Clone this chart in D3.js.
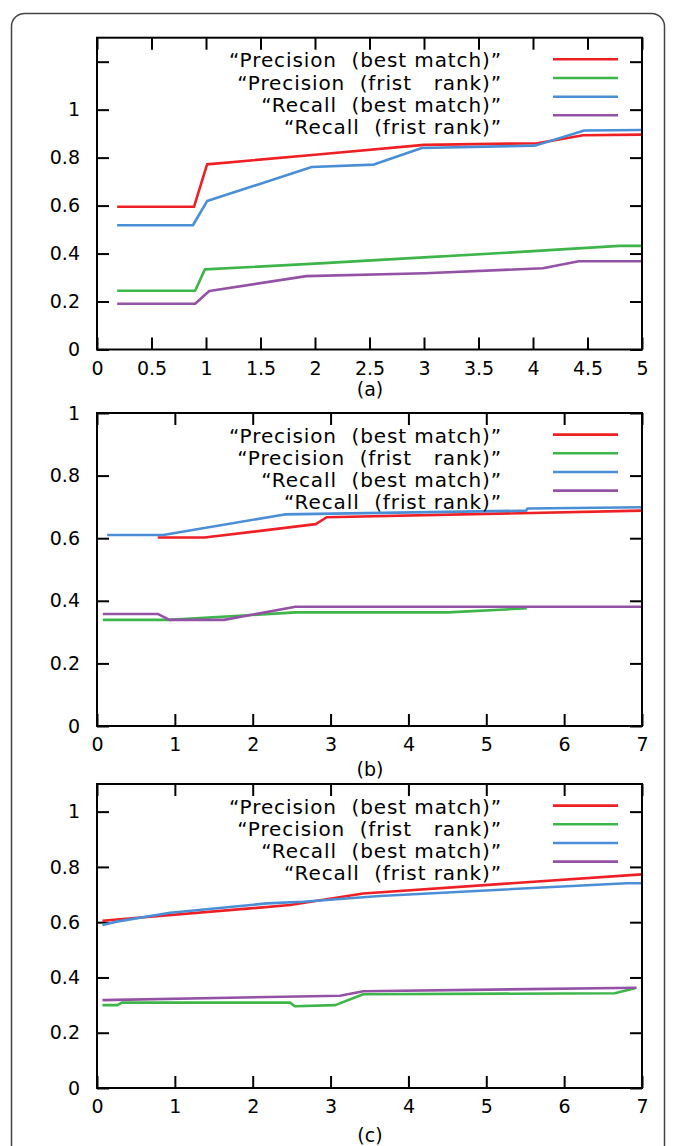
<!DOCTYPE html>
<html>
<head>
<meta charset="utf-8">
<script src="https://cdn.jsdelivr.net/npm/d3@7"></script>
<style>
  body { margin: 0; background: #fff; }
  text { font-family: "DejaVu Sans", Verdana, sans-serif; fill: #000; }
</style>
</head>
<body>
<script>
// legend entries (same four series in every panel)
const seriesNames = [
  "\u201CPrecision  (best match)\u201D",
  "\u201CPrecision  (frist   rank)\u201D",
  "\u201CRecall  (best match)\u201D",
  "\u201CRecall  (frist rank)\u201D"
];
const seriesColors = ["#ee1f25", "#3db54a", "#4a8fd6", "#9452a6"];

// panel (a) : [x, value]
const aPrecisionBest = [[0.185, 0.595], [0.89, 0.595], [1.01, 0.772], [2, 0.812], [3, 0.853], [4.04, 0.86], [4.46, 0.893], [5, 0.896]];
const aPrecisionFirst = [[0.185, 0.245], [0.9, 0.245], [0.99, 0.334], [2, 0.358], [3, 0.384], [4, 0.41], [4.79, 0.432], [5, 0.432]];
const aRecallBest = [[0.185, 0.518], [0.88, 0.518], [1.01, 0.619], [1.97, 0.761], [2.54, 0.771], [2.98, 0.84], [4.02, 0.85], [4.47, 0.913], [5, 0.915]];
const aRecallFirst = [[0.185, 0.191], [0.9, 0.191], [1.03, 0.244], [1.92, 0.306], [3.01, 0.318], [4.09, 0.339], [4.42, 0.368], [5, 0.368]];

// panel (b)
const bPrecisionBest = [[0.78, 0.602], [1.38, 0.602], [2.81, 0.645], [2.95, 0.667], [7, 0.688]];
const bPrecisionFirst = [[0.075, 0.339], [0.93, 0.339], [2.55, 0.363], [4.51, 0.363], [5.52, 0.376]];
const bRecallBest = [[0.13, 0.61], [0.85, 0.61], [2.41, 0.676], [5.51, 0.688], [5.53, 0.695], [7, 0.699]];
const bRecallFirst = [[0.075, 0.358], [0.78, 0.358], [0.93, 0.339], [1.63, 0.339], [2.55, 0.381], [7, 0.381]];

// panel (c)
const cPrecisionBest = [[0.07, 0.605], [2.48, 0.662], [3.42, 0.704], [7, 0.773]];
const cPrecisionFirst = [[0.07, 0.3], [0.26, 0.3], [0.32, 0.309], [2.48, 0.309], [2.54, 0.296], [3.06, 0.3], [3.42, 0.339], [6.65, 0.343], [6.91, 0.361]];
const cRecallBest = [[0.07, 0.59], [0.25, 0.602], [0.94, 0.634], [2.18, 0.668], [2.65, 0.674], [3.63, 0.695], [6.8, 0.741], [7, 0.741]];
const cRecallFirst = [[0.07, 0.318], [3.12, 0.334], [3.42, 0.35], [6.93, 0.363]];

// axis ticks
const aXTicks = d3.range(0, 5.01, 0.5);
const aYTicks = [0, 0.2, 0.4, 0.6, 0.8, 1, 1.2];
const bcXTicks = [0, 1, 2, 3, 4, 5, 6, 7];
const bcYTicks = [0, 0.2, 0.4, 0.6, 0.8, 1];

const panels = [
  { top: 37.7, bottom: 349.5, xMax: 5, yMax: 1.3, xTicks: aXTicks, yTicks: aYTicks, yLabelMax: 1,
    series: [aPrecisionBest, aPrecisionFirst, aRecallBest, aRecallFirst], caption: "(a)", capY: 396 },
  { top: 413, bottom: 726, xMax: 7, yMax: 1, xTicks: bcXTicks, yTicks: bcYTicks, yLabelMax: 1,
    series: [bPrecisionBest, bPrecisionFirst, bRecallBest, bRecallFirst], caption: "(b)", capY: 776 },
  { top: 784, bottom: 1088, xMax: 7, yMax: 1.1, xTicks: bcXTicks, yTicks: bcYTicks, yLabelMax: 1,
    series: [cPrecisionBest, cPrecisionFirst, cRecallBest, cRecallFirst], caption: "(c)", capY: 1142 }
];

const W = 675, H = 1146;
const left = 97, right = 642;
const tickLen = 12;

const svg = d3.select("body").append("svg")
  .attr("width", W).attr("height", H);

// outer rounded frame
svg.append("rect")
  .attr("x", 11.5).attr("y", 13.5)
  .attr("width", 653).attr("height", 1200)
  .attr("rx", 13)
  .attr("fill", "none").attr("stroke", "#444").attr("stroke-width", 1.5);

panels.forEach(p => {
  const x = d3.scaleLinear().domain([0, p.xMax]).range([left, right]);
  const y = d3.scaleLinear().domain([0, p.yMax]).range([p.bottom, p.top]);
  const g = svg.append("g");

  const fmt = d => (d > p.yLabelMax + 1e-9 ? "" : d3.format("~g")(d));

  // bottom axis with inward ticks
  g.append("g")
    .attr("transform", `translate(0,${p.bottom})`)
    .call(d3.axisBottom(x).tickValues(p.xTicks).tickFormat(d3.format("~g"))
      .tickSizeInner(-tickLen).tickSizeOuter(0).tickPadding(12))
    .call(a => a.select(".domain").remove());
  // top mirror ticks
  g.append("g")
    .attr("transform", `translate(0,${p.top})`)
    .call(d3.axisTop(x).tickValues(p.xTicks).tickFormat("")
      .tickSizeInner(-tickLen).tickSizeOuter(0))
    .call(a => a.select(".domain").remove());
  // left axis
  g.append("g")
    .attr("transform", `translate(${left},0)`)
    .call(d3.axisLeft(y).tickValues(p.yTicks).tickFormat(fmt)
      .tickSizeInner(-tickLen).tickSizeOuter(0).tickPadding(17))
    .call(a => a.select(".domain").remove());
  // right mirror ticks
  g.append("g")
    .attr("transform", `translate(${right},0)`)
    .call(d3.axisRight(y).tickValues(p.yTicks).tickFormat("")
      .tickSizeInner(-tickLen).tickSizeOuter(0))
    .call(a => a.select(".domain").remove());

  g.selectAll(".tick line").attr("stroke", "#000").attr("stroke-width", 2);
  g.selectAll(".tick text").attr("font-size", 19)
    .style("font-family", "'DejaVu Sans', Verdana, sans-serif").attr("fill", "#000");

  // data lines
  const line = d3.line().x(d => x(d[0])).y(d => y(d[1]));
  p.series.forEach((s, i) => {
    g.append("path")
      .datum(s)
      .attr("d", line)
      .attr("fill", "none")
      .attr("stroke", seriesColors[i])
      .attr("stroke-width", 2.6)
      .attr("stroke-linejoin", "round");
  });

  // legend
  const textOff = [29.6, 51.8, 74, 96.3];
  const lineOff = [21.6, 40.3, 59, 77.6];
  seriesNames.forEach((name, i) => {
    g.append("text")
      .attr("x", 502)
      .attr("y", p.top + textOff[i])
      .attr("text-anchor", "end")
      .attr("font-size", 20)
      .attr("letter-spacing", 0.9)
      .style("white-space", "pre")
      .text(name);
    g.append("line")
      .attr("x1", 553).attr("x2", 618)
      .attr("y1", p.top + lineOff[i]).attr("y2", p.top + lineOff[i])
      .attr("stroke", seriesColors[i])
      .attr("stroke-width", 2.6);
  });

  // plot border
  g.append("rect")
    .attr("x", left).attr("y", p.top)
    .attr("width", right - left).attr("height", p.bottom - p.top)
    .attr("fill", "none").attr("stroke", "#000").attr("stroke-width", 2);

  // caption
  g.append("text")
    .attr("x", 370).attr("y", p.capY)
    .attr("text-anchor", "middle")
    .attr("font-size", 19)
    .text(p.caption);
});
</script>
</body>
</html>
